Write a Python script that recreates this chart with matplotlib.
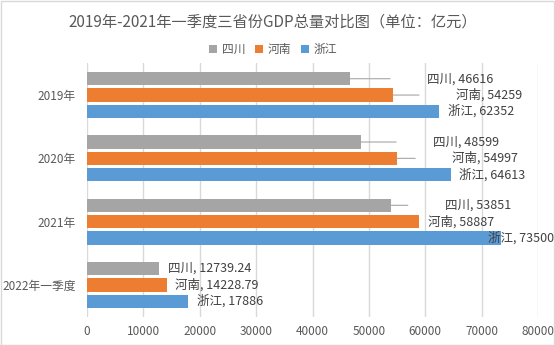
import matplotlib.pyplot as plt
import numpy as np

plt.rcParams['font.family'] = ['Noto Sans CJK SC', 'DejaVu Sans']

categories = ['2019年', '2020年', '2021年', '2022年一季度']
provinces = ['四川', '河南', '浙江']
sichuan = [46616, 48599, 53851, 12739.24]
henan = [54259, 54997, 58887, 14228.79]
zhejiang = [62352, 64613, 73500, 17886]
label_text = [
    ['46616', '48599', '53851', '12739.24'],
    ['54259', '54997', '58887', '14228.79'],
    ['62352', '64613', '73500', '17886'],
]

colors = ['#A5A5A5', '#ED7D31', '#5B9BD5']
text_color = '#595959'
# label offsets (pixels) from bar end, per series / category
label_dx = [
    [77, 72, 54, 9],
    [63, 55, 9, 8],
    [9, 8, -13, 9],
]

fig = plt.figure(figsize=(5.55, 3.45), dpi=100)
ax = fig.add_axes([87 / 555, 1 - 316.6 / 345, 451 / 555, 253.2 / 345])

y = np.arange(len(categories))
step = 0.258
height = 0.21
series = [sichuan, henan, zhejiang]
for i, (vals, name, col) in enumerate(zip(series, provinces, colors)):
    pos = y + (i - 1) * step
    ax.barh(pos, vals, height=height, color=col, label=name, zorder=2)
    for j, v in enumerate(vals):
        dx = label_dx[i][j]
        arrow = None
        if dx > 40:
            arrow = dict(arrowstyle='-', color='#A6A6A6', lw=0.8,
                         shrinkA=24.5, shrinkB=0)
        ax.annotate(f'{name}, {label_text[i][j]}', xy=(v, pos[j]),
                    xytext=(dx, 0), textcoords='offset pixels',
                    ha='left', va='center', fontsize=9, color='#404040',
                    arrowprops=arrow, zorder=3)

ax.set_xlim(0, 80000)
ax.set_xticks(np.arange(0, 80001, 10000))
ax.set_ylim(len(categories) - 0.5, -0.5)
ax.set_yticks(y)
ax.set_yticklabels(categories)
ax.tick_params(axis='both', length=0, labelsize=8.5, labelcolor=text_color)
ax.tick_params(axis='y', pad=8)
ax.tick_params(axis='x', pad=6)
ax.grid(axis='x', color='#D9D9D9', lw=1, zorder=0)
for s in ax.spines.values():
    s.set_visible(False)

fig.text(273 / 555, 1 - 22 / 345, '2019年-2021年一季度三省份GDP总量对比图（单位：亿元）',
         ha='center', va='center', fontsize=11, color=text_color)
fig.legend(loc='center', bbox_to_anchor=(273 / 555, 1 - 49.5 / 345), ncol=3,
           frameon=False, fontsize=8.5, labelcolor=text_color,
           handlelength=0.7, handleheight=0.7, handletextpad=0.4,
           columnspacing=0.8)

fig.patches.append(plt.Rectangle((0.001, 0.001), 0.997, 0.997, transform=fig.transFigure,
                                 fill=False, edgecolor='#D9D9D9', lw=1))

fig.savefig('out.png', dpi=100)
